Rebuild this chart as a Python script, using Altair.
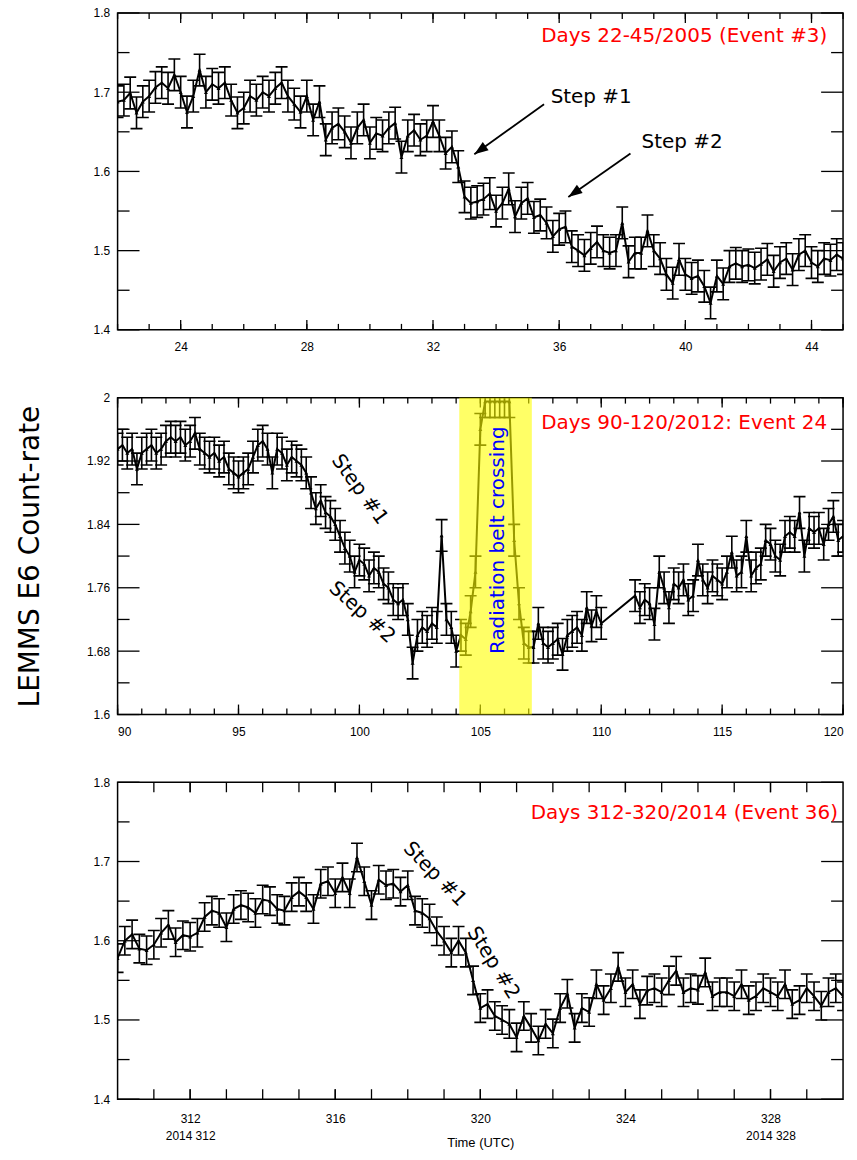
import altair as alt
import pandas as pd

# ---------------------------------------------------------------- data
sample_step = 0.2  # days between samples

# Event #3: days 22-45 of 2005
ev3_day0 = 22.0
ev3_rate = [
    1.688, 1.69, 1.699, 1.674, 1.688, 1.695, 1.706, 1.712, 1.705, 1.722,
    1.70, 1.675, 1.695, 1.728, 1.70, 1.71, 1.705, 1.712, 1.69, 1.674,
    1.68, 1.695, 1.69, 1.70, 1.695, 1.705, 1.712, 1.695, 1.685, 1.675,
    1.695, 1.665, 1.688, 1.64, 1.655, 1.66, 1.65, 1.636, 1.655, 1.665,
    1.636, 1.648, 1.645, 1.655, 1.661, 1.618, 1.645, 1.652, 1.64, 1.645,
    1.663, 1.645, 1.623, 1.631, 1.606, 1.568, 1.56, 1.562, 1.565, 1.572,
    1.55, 1.56, 1.578, 1.543, 1.56, 1.566, 1.542, 1.545, 1.535, 1.518,
    1.527, 1.53, 1.505, 1.50, 1.494, 1.503, 1.511, 1.50, 1.497, 1.50,
    1.535, 1.486, 1.497, 1.497, 1.525, 1.50, 1.49, 1.47, 1.459, 1.489,
    1.47, 1.465, 1.468, 1.455, 1.434, 1.468, 1.458, 1.48, 1.484, 1.48,
    1.482, 1.478, 1.483, 1.489, 1.474, 1.485, 1.49, 1.476, 1.495, 1.50,
    1.485, 1.48, 1.49, 1.488, 1.495, 1.49,
]

# Event 24: days 90-120 of 2012, two stretches either side of a data gap
ev24_day0_a = 90.0
ev24_rate_a = [
    1.935, 1.94, 1.93, 1.935, 1.91, 1.93, 1.935, 1.94, 1.93, 1.935,
    1.945, 1.95, 1.945, 1.95, 1.94, 1.945, 1.955, 1.935, 1.93, 1.925,
    1.93, 1.92, 1.925, 1.91, 1.905, 1.90, 1.905, 1.91, 1.925, 1.94,
    1.945, 1.935, 1.905, 1.935, 1.93, 1.915, 1.925, 1.92, 1.915, 1.905,
    1.88, 1.86, 1.87, 1.855, 1.85, 1.84, 1.825, 1.81, 1.80, 1.78,
    1.795, 1.79, 1.775, 1.785, 1.78, 1.765, 1.76, 1.745, 1.74, 1.745,
    1.72, 1.665, 1.70, 1.71, 1.705, 1.715, 1.71, 1.826, 1.72, 1.71,
    1.68, 1.70, 1.695, 1.73, 1.78, 1.96, 1.995, 1.995, 1.995, 1.995,
    1.995, 1.995, 1.82, 1.74, 1.69, 1.685, 1.685, 1.715, 1.69, 1.685,
    1.69, 1.695, 1.676, 1.70, 1.705, 1.71, 1.70, 1.735, 1.712, 1.73,
    1.715,
]
ev24_day0_b = 111.4
ev24_rate_b = [
    1.75, 1.735, 1.745, 1.74, 1.714, 1.78, 1.76, 1.735, 1.765, 1.76,
    1.77, 1.745, 1.75, 1.795, 1.77, 1.76, 1.775, 1.77, 1.765, 1.78,
    1.805, 1.775, 1.78, 1.825, 1.775, 1.785, 1.79, 1.82, 1.815, 1.80,
    1.795, 1.825, 1.83, 1.825, 1.855, 1.80, 1.835, 1.83, 1.835, 1.815,
    1.84, 1.85, 1.82, 1.825,
]
belt_start = [104.13]
belt_end = [107.13]

# Event 36: days 310-330 of 2014
ev36_day0 = 310.0
ev36_rate = [
    1.578, 1.60, 1.608, 1.59, 1.588, 1.595, 1.61, 1.62, 1.598, 1.607,
    1.605, 1.61, 1.63, 1.638, 1.635, 1.617, 1.64, 1.645, 1.642, 1.635,
    1.652, 1.65, 1.64, 1.638, 1.655, 1.662, 1.655, 1.64, 1.672, 1.675,
    1.66, 1.68, 1.66, 1.705, 1.675, 1.645, 1.677, 1.67, 1.672, 1.662,
    1.67, 1.638, 1.635, 1.628, 1.612, 1.60, 1.585, 1.60, 1.585, 1.55,
    1.515, 1.52, 1.505, 1.50, 1.495, 1.478, 1.505, 1.49, 1.474, 1.495,
    1.483, 1.515, 1.533, 1.49, 1.515, 1.51, 1.545, 1.525, 1.54, 1.567,
    1.535, 1.545, 1.52, 1.537, 1.54, 1.535, 1.55, 1.562, 1.535, 1.54,
    1.538, 1.56, 1.53, 1.535, 1.535, 1.53, 1.545, 1.525, 1.53, 1.54,
    1.535, 1.53, 1.545, 1.52, 1.525, 1.54, 1.53, 1.518, 1.535, 1.54,
    1.53,
]

# one-sigma uncertainty of the count rate
err_ev3, err_ev24, err_ev36 = 0.02, 0.02, 0.018

# axis tick positions
ev3_x_minor = list(range(22, 46))
ev3_x_major = [24, 28, 32, 36, 40, 44]
ev24_x_minor = list(range(90, 121))
ev24_x_major = [90, 95, 100, 105, 110, 115, 120]
ev36_x_minor = list(range(311, 330))
ev36_x_major = [312, 316, 320, 324, 328]
y_major_a = [1.4, 1.5, 1.6, 1.7, 1.8]
y_minor_a = [1.45, 1.55, 1.65, 1.75]
y_major_b = [1.6, 1.68, 1.76, 1.84, 1.92, 2.0]
y_minor_b = [1.64, 1.72, 1.8, 1.88, 1.96]

# annotations (positions in data units)
titles = {
    "ev3": (44.5, 1.7706, "Days 22-45/2005 (Event #3)"),
    "ev24": (119.34, 1.968, "Days 90-120/2012: Event 24"),
    "ev36": (329.86, 1.7613, "Days 312-320/2014 (Event 36)"),
}
ev3_steps = pd.DataFrame({"day": [35.73, 38.61], "rate": [1.694, 1.6372],
                          "label": ["Step #1", "Step #2"]})
ev3_arrows = pd.DataFrame({"x0": [35.52, 38.26], "y0": [1.6848, 1.6226],
                           "x1": [33.31, 36.29], "y1": [1.6218, 1.5678],
                           "ang": [234.5, 235.2]})
ev24_steps = pd.DataFrame({"day": [100.01, 100.11], "rate": [1.884, 1.729],
                           "label": ["Step #1", "Step #2"], "ang": [54, 42]})
ev36_steps = pd.DataFrame({"day": [318.75, 320.36], "rate": [1.684, 1.572],
                           "label": ["Step #1", "Step #2"], "ang": [46, 58]})
belt_label = pd.DataFrame({"day": [105.74], "rate": [1.82],
                           "label": ["Radiation belt crossing"]})

W = 728
H = 318
ARROW_HEAD = "M0,0 L0.36,1 L-0.36,1 Z"


def series(day0, rates):
    return pd.DataFrame({
        "day": [round(day0 + i * sample_step, 3) for i in range(len(rates))],
        "rate": rates,
    })


def make_panel(df, err, xdom, ydom, xaxis, yaxis, x_minor, x_major, y_minor,
               y_major, x_minor_len, x_major_len, under=(), over=()):
    xs = alt.Scale(domain=list(xdom), nice=False, zero=False)
    ys = alt.Scale(domain=list(ydom), nice=False, zero=False)

    def X(f):
        return alt.X(f, type="quantitative", scale=xs, axis=xaxis)

    def Y(f):
        return alt.Y(f, type="quantitative", scale=ys, axis=yaxis)

    base = alt.Chart(df).transform_calculate(
        lo=f"datum.rate - {err}", hi=f"datum.rate + {err}")
    layers = list(under)
    layers.append(base.mark_rule(color="black", strokeWidth=1.6, clip=True)
                  .encode(x=X("day"), y=Y("lo"), y2=alt.Y2("hi")))
    for f in ("lo", "hi"):
        layers.append(base.mark_tick(orient="horizontal", size=12, thickness=1.6,
                                     color="black", opacity=1, clip=True)
                      .encode(x=X("day"), y=Y(f)))
    layers.append(base.mark_line(color="black", strokeWidth=2.0, clip=True)
                  .encode(x=X("day"), y=Y("rate")))
    layers.append(base.mark_point(shape="triangle-up", filled=True, size=16,
                                  color="black", opacity=1, clip=True)
                  .encode(x=X("day"), y=Y("rate")))

    # inward ticks on all four sides of the frame
    for vals, ln in ((x_minor, x_minor_len), (x_major, x_major_len)):
        tdf = pd.DataFrame({"t": vals})
        tk = alt.Chart(tdf).mark_rule(color="black", strokeWidth=1.3)
        layers.append(tk.encode(x=X("t"), y=alt.value(H), y2=alt.value(H - ln)))
        layers.append(tk.encode(x=X("t"), y=alt.value(0), y2=alt.value(ln)))
    for vals, ln in ((y_minor, 12), (y_major, 22)):
        tdf = pd.DataFrame({"t": vals})
        tk = alt.Chart(tdf).mark_rule(color="black", strokeWidth=1.3)
        layers.append(tk.encode(y=Y("t"), x=alt.value(0), x2=alt.value(ln)))
        layers.append(tk.encode(y=Y("t"), x=alt.value(W), x2=alt.value(W - ln)))

    layers.extend(o(X, Y) for o in over)
    return alt.layer(*layers).properties(width=W, height=H)


def red_title(key):
    d, r, txt = titles[key]
    tdf = pd.DataFrame({"day": [d], "rate": [r], "label": [txt]})

    def build(X, Y):
        return alt.Chart(tdf).mark_text(
            align="right", baseline="middle", font="DejaVu Sans", fontSize=20,
            color="#ff0000").encode(x=X("day"), y=Y("rate"), text=alt.Text("label:N"))
    return build


def rotated_steps(sdf):
    def build(X, Y):
        return alt.Chart(sdf).mark_text(
            align="center", baseline="middle", font="DejaVu Sans", fontSize=20,
            color="black").encode(x=X("day"), y=Y("rate"), text=alt.Text("label:N"),
                                  angle=alt.Angle("ang:Q", scale=None))
    return build


def ev3_notes(X, Y):
    txt = alt.Chart(ev3_steps).mark_text(
        align="left", baseline="middle", font="DejaVu Sans", fontSize=20,
        color="black").encode(x=X("day"), y=Y("rate"), text=alt.Text("label:N"))
    shaft = alt.Chart(ev3_arrows).mark_rule(color="black", strokeWidth=1.8).encode(
        x=X("x0"), x2=alt.X2("x1"), y=Y("y0"), y2=alt.Y2("y1"))
    head = alt.Chart(ev3_arrows).mark_point(
        shape=ARROW_HEAD, filled=True, size=784, color="black", opacity=1,
        strokeWidth=0).encode(x=X("x1"), y=Y("y1"), angle=alt.Angle("ang:Q", scale=None))
    return alt.layer(txt, shaft, head)


def belt_band(X, Y):
    bdf = pd.DataFrame({"b0": belt_start, "b1": belt_end})
    return alt.Chart(bdf).mark_rect(color="#ffff00", opacity=0.6).encode(
        x=X("b0"), x2=alt.X2("b1"), y=alt.value(0), y2=alt.value(H))


def belt_text(X, Y):
    return alt.Chart(belt_label).mark_text(
        align="center", baseline="middle", font="DejaVu Sans", fontSize=20,
        color="#0000ff", angle=270).encode(x=X("day"), y=Y("rate"),
                                           text=alt.Text("label:N"))


lab = dict(labelFont="Liberation Sans", labelFontSize=12, labelColor="black",
           ticks=False, domain=False, grid=False)
yfmt = "format(datum.value, '~g')"

# ---------------------------------------------------------------- panels
p1 = make_panel(
    series(ev3_day0, ev3_rate), err_ev3, (22, 45), (1.4, 1.8),
    alt.Axis(values=ev3_x_major, labelPadding=12, title=None, **lab),
    alt.Axis(values=y_major_a, labelPadding=8, labelExpr=yfmt, title=None, **lab),
    ev3_x_minor, ev3_x_major, y_minor_a, y_major_a, 6, 10,
    over=[red_title("ev3"), ev3_notes],
)

p2 = make_panel(
    pd.concat([series(ev24_day0_a, ev24_rate_a), series(ev24_day0_b, ev24_rate_b)],
              ignore_index=True),
    err_ev24, (90, 120), (1.6, 2.0),
    alt.Axis(values=ev24_x_major, labelPadding=12, title=None, **lab),
    alt.Axis(values=y_major_b, labelPadding=8, labelExpr=yfmt,
             title="LEMMS E6 Count-rate", titleX=-87, titleY=H / 2, titleAngle=270,
             titleAlign="center", titleBaseline="middle", titleFont="DejaVu Sans",
             titleFontSize=28, titleFontWeight="normal", titleColor="black", **lab),
    ev24_x_minor, ev24_x_major, y_minor_b, y_major_b, 6, 10,
    over=[belt_band, belt_text, red_title("ev24"), rotated_steps(ev24_steps)],
)

p3 = make_panel(
    series(ev36_day0, ev36_rate), err_ev36, (310, 330), (1.4, 1.8),
    alt.Axis(values=ev36_x_major, labelPadding=14, labelLineHeight=17,
             labelExpr="datum.value == 312 ? ['312', '2014 312'] : "
                       "datum.value == 328 ? ['328', '2014 328'] : datum.label",
             title="Time (UTC)", titleY=43, titleBaseline="middle",
             titleFont="Liberation Sans", titleFontSize=13, titleFontWeight="normal",
             titleColor="black", **lab),
    alt.Axis(values=y_major_a, labelPadding=8, labelExpr=yfmt, title=None, **lab),
    ev36_x_minor, ev36_x_major, y_minor_a, y_major_a, 10, 10,
    over=[red_title("ev36"), rotated_steps(ev36_steps)],
)

chart = (
    alt.vconcat(p1, p2, p3, spacing=68, bounds="flush")
    .properties(padding={"left": 16, "top": 4, "right": 12, "bottom": 5},
                background="white")
    .configure_view(stroke="black", strokeWidth=1.5)
)

chart.save("out.html", embed_options={"renderer": "svg", "actions": False})
